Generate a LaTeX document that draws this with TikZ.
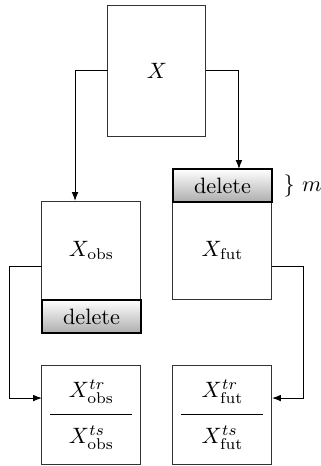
\documentclass[tikz,border=0pt]{standalone}
\usetikzlibrary{arrows.meta}
\begin{document}
\begin{tikzpicture}[x=0.45pt,y=-0.45pt,
  box/.style={draw=black!80,line width=0.45pt,inner sep=0pt,outer sep=0pt,rectangle},
  delbox/.style={draw=black,line width=0.9pt,inner sep=0pt,outer sep=0pt,rectangle,
    minimum width=44.55pt,minimum height=14.85pt,top color=white,bottom color=black!32},
  part/.style={inner sep=0pt},
  arr/.style={line width=0.45pt,-{Latex[length=4pt,width=3pt]}}]
\useasboundingbox (0,0) rectangle (321,466);
% source matrix
\node[box,minimum width=44.1pt,minimum height=58.95pt] (X) at (157,70.5) {$X$};
% observed part with its deleted rows below
\node[box,minimum width=44.55pt,minimum height=44.55pt] (Xobs) at (91.5,250.5) {$X_{\mathrm{obs}}$};
\node[delbox,anchor=north] (delobs) at (Xobs.south) {delete};
% future part with its deleted rows above
\node[box,minimum width=44.55pt,minimum height=43.65pt] (Xfut) at (222.5,250.5) {$X_{\mathrm{fut}}$};
\node[delbox,anchor=south] (delfut) at (Xfut.north) {delete};
\node[anchor=west,inner sep=0pt] (mlab) at ([xshift=5pt]delfut.east) {$\}\ m$};
% train/test splits
\node[box,minimum width=44.55pt,minimum height=44.55pt] (L) at (91.5,414.5) {};
\node[box,minimum width=44.55pt,minimum height=44.55pt] (R) at (222.5,414.5) {};
\draw[line width=0.45pt] ([xshift=-18.45pt]L.center) -- ([xshift=18.45pt]L.center);
\draw[line width=0.45pt] ([xshift=-18.45pt]R.center) -- ([xshift=18.45pt]R.center);
\node[part] (Ltr) at ([yshift=10.3pt]L.center) {$X^{tr}_{\mathrm{obs}}$};
\node[part] (Lts) at ([yshift=-10.3pt]L.center) {$X^{ts}_{\mathrm{obs}}$};
\node[part] (Rtr) at ([yshift=10.3pt]R.center) {$X^{tr}_{\mathrm{fut}}$};
\node[part] (Rts) at ([yshift=-10.3pt]R.center) {$X^{ts}_{\mathrm{fut}}$};
% connectors
\draw[arr] (X.west) -| ([xshift=-7.4pt]Xobs.north);
\draw[arr] (X.east) -| ([xshift=7.4pt]delfut.north);
\draw[arr] ([yshift=-7.4pt]Xobs.west) -- ++(-14.4pt,0) |- ([yshift=7.4pt]L.west);
\draw[arr] ([yshift=-7.4pt]Xfut.east) -- ++(14.4pt,0) |- ([yshift=7.4pt]R.east);
\end{tikzpicture}
\end{document}
